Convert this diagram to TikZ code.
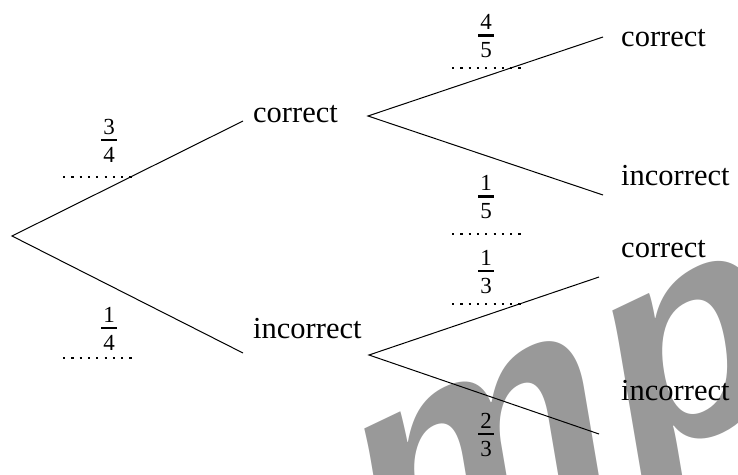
\documentclass[tikz,border=0pt]{standalone}
\usepackage{fontspec}
\setmainfont{Liberation Serif}
\newfontfamily\wmfont{Liberation Sans}
\definecolor{wm}{RGB}{153,153,153}
\tikzset{
  branch/.style={line width=1pt, draw=black},
  lbl/.style={anchor=base west, inner sep=0pt, font=\fontsize{30.5}{36}\selectfont},
  frc/.style={anchor=base, inner sep=0pt, font=\fontsize{23}{27}\selectfont},
  blank/.style={line width=2.2pt, dash pattern=on 2.2pt off 6.1pt},
}
\newcommand\fr[2]{\vbox{\offinterlineskip\halign{\hfil##\hfil\cr
  #1\cr\noalign{\kern5pt}\rule{15.7pt}{2.2pt}\cr\noalign{\kern5.4pt}#2\cr}}}
\begin{document}
\begin{tikzpicture}[x=1pt,y=-1pt]
\useasboundingbox (0,0) rectangle (738,474);
\clip (0,0) rectangle (738,474);
% watermark
\begin{scope}[shift={(373,597)}, cm={0.903,0.431,-0.167,0.986,(0,0)}]
  \node[transform shape, anchor=base west, inner sep=0pt, text=wm,
        font=\wmfont\bfseries\fontsize{305}{305}\selectfont] (wmark) at (0,0) {m\kern0.015em ple};
\end{scope}
% branch points
\coordinate (r) at (12,236);
\coordinate (a1) at (243,121);
\coordinate (a2) at (243,353);
\coordinate (b1) at (368,116);
\coordinate (b1u) at (603,37);
\coordinate (b1d) at (603,195);
\coordinate (b2) at (369,355);
\coordinate (b2u) at (599,277);
\coordinate (b2d) at (599,434);
\draw[branch] (a1) -- (r) -- (a2);
\draw[branch] (b1u) -- (b1) -- (b1d);
\draw[branch] (b2u) -- (b2) -- (b2d);
% labels
\node[lbl] (c1) at (253,122) {correct};
\node[lbl] (i1) at (253,338) {incorrect};
\node[lbl] (cc) at (621,46) {correct};
\node[lbl] (ci) at (621,185) {incorrect};
\node[lbl] (ic) at (621,257) {correct};
\node[lbl] (ii) at (621,400) {incorrect};
% fractions
\node[frc] (f1) at (109,162) {\fr{3}{4}};
\node[frc] (f2) at (109,350) {\fr{1}{4}};
\node[frc] (f3) at (486,57) {\fr{4}{5}};
\node[frc] (f4) at (486,218) {\fr{1}{5}};
\node[frc] (f5) at (486,293) {\fr{1}{3}};
\node[frc] (f6) at (486,456) {\fr{2}{3}};
% answer blanks
\draw[blank] (63,177) -- (131.5,177);
\draw[blank] (63,358) -- (131.5,358);
\draw[blank] (452,68) -- (520.5,68);
\draw[blank] (452,234) -- (520.5,234);
\draw[blank] (452,304) -- (520.5,304);
\end{tikzpicture}
\end{document}
